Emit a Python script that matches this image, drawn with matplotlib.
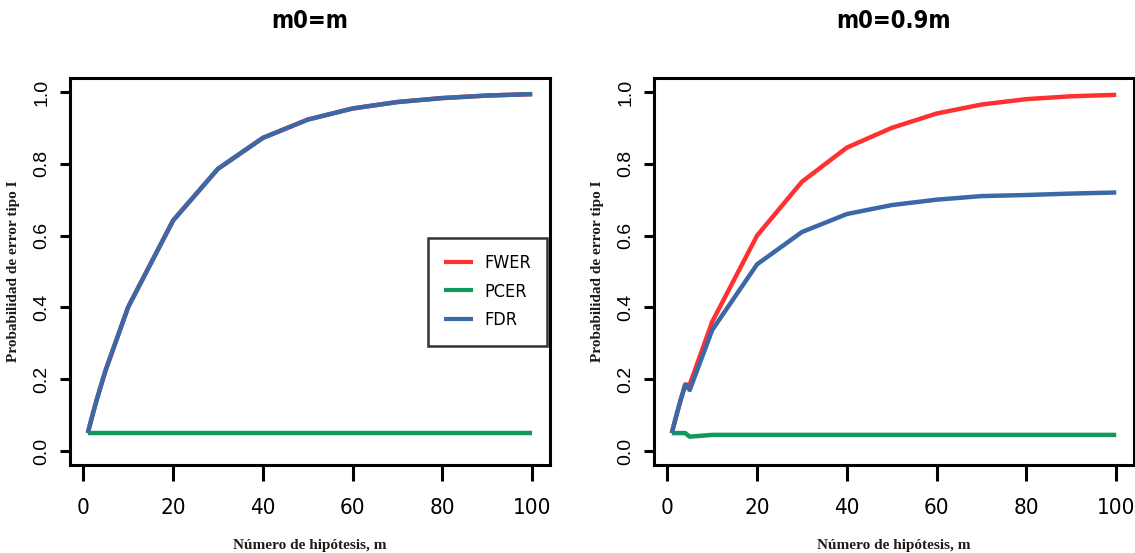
import matplotlib
matplotlib.use("Agg")
import matplotlib.pyplot as plt
from matplotlib import font_manager

# numero de hipotesis
m_vals = [1, 2, 3, 4, 5, 10, 20, 30, 40, 50, 60, 70, 80, 90, 100]

# m0 = m (todas las hipotesis nulas ciertas)
fwer_all = [0.05, 0.098, 0.143, 0.185, 0.226, 0.401, 0.642, 0.786, 0.872, 0.923, 0.954, 0.972, 0.983, 0.990, 0.994]
pcer_all = [0.05, 0.05, 0.05, 0.05, 0.05, 0.05, 0.05, 0.05, 0.05, 0.05, 0.05, 0.05, 0.05, 0.05, 0.05]
fdr_all = [0.05, 0.098, 0.143, 0.185, 0.226, 0.401, 0.642, 0.786, 0.872, 0.923, 0.954, 0.972, 0.983, 0.990, 0.994]

# m0 = 0.9m
fwer_09 = [0.05, 0.098, 0.143, 0.185, 0.185, 0.36, 0.60, 0.75, 0.845, 0.90, 0.94, 0.965, 0.98, 0.988, 0.992]
pcer_09 = [0.05, 0.05, 0.05, 0.05, 0.04, 0.045, 0.045, 0.045, 0.045, 0.045, 0.045, 0.045, 0.045, 0.045, 0.045]
fdr_09 = [0.05, 0.098, 0.143, 0.185, 0.17, 0.337, 0.52, 0.61, 0.66, 0.685, 0.70, 0.71, 0.713, 0.717, 0.72]

titles = ["m0=m", "m0=0.9m"]
x_ticks = [0, 20, 40, 60, 80, 100]
y_ticks = [0.0, 0.2, 0.4, 0.6, 0.8, 1.0]
y_ticklabels = ["0.0", "0.2", "0.4", "0.6", "0.8", "1.0"]

RED = "#ff3030"
GREEN = "#10995c"
BLUE = "#3b68a6"
LABEL_COLOR = "#201a14"

# narrow look of the original (R / Arial Narrow); condensed DejaVu if present
cond = [f for f in font_manager.fontManager.ttflist if "Condensed" in f.fname or "Narrow" in f.fname]
if cond:
    narrow = {"family": cond[0].name, "stretch": "condensed"}
else:
    narrow = {"family": "Liberation Sans"}

fig = plt.figure(figsize=(11.35, 5.53), dpi=100)
ax_left = fig.add_axes([70 / 1135, 0.1584, 480 / 1135, 0.7013])
ax_right = fig.add_axes([654 / 1135, 0.1584, 480 / 1135, 0.7013])

panels = [
    (ax_left, fwer_all, pcer_all, fdr_all),
    (ax_right, fwer_09, pcer_09, fdr_09),
]

for i, (ax, fwer, pcer, fdr) in enumerate(panels):
    ax.plot(m_vals, fwer, color=RED, lw=3.2, label="FWER", solid_capstyle="butt")
    ax.plot(m_vals, pcer, color=GREEN, lw=3.2, label="PCER", solid_capstyle="butt")
    ax.plot(m_vals, fdr, color=BLUE, lw=3.2, label="FDR", solid_capstyle="butt")

    ax.set_xlim(-2.96, 103.96)
    ax.set_ylim(-0.04, 1.04)
    ax.set_xticks(x_ticks)
    ax.set_xticklabels([str(t) for t in x_ticks], fontsize=16, **narrow)
    ax.set_yticks(y_ticks)
    ax.set_yticklabels(y_ticklabels, rotation=90, va="center", family="Liberation Sans", fontsize=14)
    ax.tick_params(axis="x", length=11.5, width=2.2, pad=12, direction="out")
    ax.tick_params(axis="y", length=7.2, width=2.2, pad=7, direction="out")
    for sp in ax.spines.values():
        sp.set_linewidth(2.2)

    ax.set_title(titles[i], fontweight="bold", fontsize=17, pad=36, **narrow)
    ax.set_xlabel("Número de hipótesis, m", family="Liberation Serif", fontweight="bold",
                  fontsize=11, color=LABEL_COLOR)
    ax.set_ylabel("Probabilidad de error tipo I", family="Liberation Serif", fontweight="bold",
                  fontsize=11, color=LABEL_COLOR)
    ax.xaxis.set_label_coords(0.5, -0.19)
    ax.yaxis.set_label_coords(-0.104, 0.5)

leg = ax_left.legend(loc="center right", bbox_to_anchor=(0.994, 0.448),
                     prop=dict(size=13, **narrow), frameon=True, fancybox=False,
                     handlelength=1.6, handletextpad=0.6, borderpad=0.9, labelspacing=0.6,
                     borderaxespad=0)
leg.get_frame().set_edgecolor("black")
leg.get_frame().set_linewidth(1.8)
for line in leg.get_lines():
    line.set_linewidth(3)

fig.savefig("out.png", dpi=100)
